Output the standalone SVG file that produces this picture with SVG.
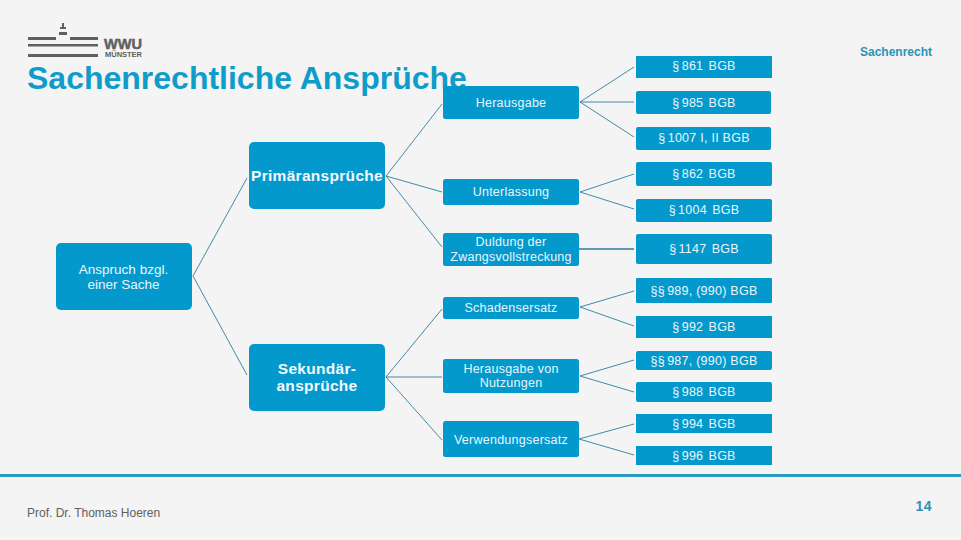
<svg xmlns="http://www.w3.org/2000/svg" width="961" height="540" viewBox="0 0 961 540">
<style>
.box{fill:#0499cd}
.t{font-family:"Liberation Sans",Arial,sans-serif;font-size:12.5px;fill:#eaf6fb;text-anchor:middle;letter-spacing:.25px}
.a{font-family:"Liberation Sans",Arial,sans-serif;font-size:13.5px;fill:#eaf6fb;text-anchor:middle}
.b{font-family:"Liberation Sans",Arial,sans-serif;font-size:15.500px;font-weight:bold;fill:#f2fafd;text-anchor:middle;letter-spacing:.3px}
.c line{stroke:#2b7f9f;stroke-width:.9;fill:none}
.logo{fill:#5f6062}
</style>
<rect width="961" height="540" fill="#f4f4f4"/>
<g id="logo">
<rect class="logo" x="28" y="37" width="28" height="3"/><rect class="logo" x="70" y="37" width="28" height="3"/>
<rect class="logo" x="28" y="44" width="70" height="2.500"/><rect class="logo" x="28" y="54" width="70" height="3"/>
<rect class="logo" x="59" y="32" width="8" height="3"/><rect class="logo" x="62" y="23" width="2" height="6"/><rect class="logo" x="60" y="27" width="6" height="2"/>
<text x="104" y="48.500" class="logo" textLength="38" lengthAdjust="spacingAndGlyphs" style="font-family:'Liberation Sans',sans-serif;font-size:15px;font-weight:bold;stroke:#5f6062;stroke-width:.5">WWU</text>
<text x="105" y="57" class="logo" textLength="37" lengthAdjust="spacingAndGlyphs" style="font-family:'Liberation Sans',sans-serif;font-size:7px;font-weight:bold">MÜNSTER</text>
</g>
<text id="title" x="27" y="89" style="font-family:'Liberation Sans',sans-serif;font-size:32px;font-weight:bold;fill:#0f9ccb">Sachenrechtliche Ansprüche</text>
<text id="section" x="932" y="56" text-anchor="end" style="font-family:'Liberation Sans',sans-serif;font-size:12px;font-weight:bold;fill:#2a93b5">Sachenrecht</text>
<g id="connectors" class="c">
<line x1="193" y1="276" x2="247" y2="178"/><line x1="193" y1="276" x2="247" y2="375"/>
<line x1="386" y1="176" x2="442" y2="104"/><line x1="386" y1="176" x2="442" y2="192"/><line x1="386" y1="176" x2="442" y2="247"/>
<line x1="386" y1="377" x2="442" y2="309"/><line x1="386" y1="377" x2="442" y2="377"/><line x1="386" y1="377" x2="442" y2="440"/>
<line x1="580" y1="102" x2="634" y2="67"/><line x1="580" y1="102" x2="634" y2="102"/><line x1="580" y1="102" x2="634" y2="137"/>
<line x1="580" y1="192" x2="634" y2="174"/><line x1="580" y1="192" x2="634" y2="209"/>
<line x1="579" y1="249" x2="634" y2="249" style="stroke-width:1.6"/>
<line x1="580" y1="307" x2="634" y2="291"/><line x1="580" y1="307" x2="634" y2="326"/>
<line x1="580" y1="376" x2="634" y2="360"/><line x1="580" y1="376" x2="634" y2="392"/>
<line x1="579" y1="439" x2="634" y2="424"/><line x1="579" y1="439" x2="634" y2="455"/>
</g>
<g id="anspruch"><rect class="box" x="56" y="243" width="136" height="67" rx="5"/><text class="a" x="123.500" y="274">Anspruch bzgl.</text><text class="a" x="123.500" y="289">einer Sache</text></g>
<g id="primaer"><rect class="box" x="249" y="142" width="136" height="67" rx="5"/><text class="b" x="317" y="181">Primäransprüche</text></g>
<g id="sekundaer"><rect class="box" x="249" y="344" width="136" height="67" rx="5"/><text class="b" x="317" y="374">Sekundär-</text><text class="b" x="317" y="391">ansprüche</text></g>
<g id="herausgabe"><rect class="box" x="443" y="86" width="136" height="33" rx="2.500"/><text class="t" x="511" y="107">Herausgabe</text></g>
<g id="unterlassung"><rect class="box" x="443" y="179" width="136" height="26" rx="2.500"/><text class="t" x="511" y="196">Unterlassung</text></g>
<g id="duldung"><rect class="box" x="443" y="233" width="136" height="33" rx="2.500"/><text class="t" x="511" y="246">Duldung der</text><text class="t" x="511" y="261">Zwangsvollstreckung</text></g>
<g id="schadensersatz"><rect class="box" x="443" y="297" width="136" height="22" rx="2.500"/><text class="t" x="511" y="312">Schadensersatz</text></g>
<g id="nutzungen"><rect class="box" x="443" y="359" width="136" height="34" rx="2.500"/><text class="t" x="511" y="373">Herausgabe von</text><text class="t" x="511" y="387">Nutzungen</text></g>
<g id="verwendung"><rect class="box" x="443" y="421" width="136" height="36" rx="2.500"/><text class="t" x="511" y="444">Verwendungsersatz</text></g>
<g id="p861"><rect class="box" x="636" y="56" width="136" height="22"/><text class="t" x="704" y="70">§ <tspan dx="-1.500">861</tspan> <tspan dx="1.500">BGB</tspan></text></g>
<g id="p985"><rect class="box" x="636" y="91" width="135" height="23" rx="2"/><text class="t" x="704" y="107">§ <tspan dx="-1.500">985</tspan> <tspan dx="1.500">BGB</tspan></text></g>
<g id="p1007"><rect class="box" x="636" y="127" width="135" height="23" rx="2"/><text class="t" x="704" y="142">§ <tspan dx="-1.500">1007</tspan> I, II BGB</text></g>
<g id="p862"><rect class="box" x="636" y="162" width="136" height="24" rx="2"/><text class="t" x="704" y="178">§ <tspan dx="-1.500">862</tspan> <tspan dx="1.500">BGB</tspan></text></g>
<g id="p1004"><rect class="box" x="636" y="199" width="136" height="23" rx="2"/><text class="t" x="704" y="214">§ <tspan dx="-1.500">1004</tspan> <tspan dx="1.500">BGB</tspan></text></g>
<g id="p1147"><rect class="box" x="636" y="234" width="136" height="30" rx="2"/><text class="t" x="704" y="253">§ <tspan dx="-1.500">1147</tspan> <tspan dx="1.500">BGB</tspan></text></g>
<g id="p989"><rect class="box" x="636" y="278" width="136" height="25" rx="1"/><text class="t" x="704" y="295">§§ <tspan dx="-1.500">989,</tspan> (990) BGB</text></g>
<g id="p992"><rect class="box" x="636" y="316" width="136" height="22"/><text class="t" x="704" y="331">§ <tspan dx="-1.500">992</tspan> <tspan dx="1.500">BGB</tspan></text></g>
<g id="p987"><rect class="box" x="636" y="351" width="136" height="19" rx="2"/><text class="t" x="704" y="365">§§ <tspan dx="-1.500">987,</tspan> (990) BGB</text></g>
<g id="p988"><rect class="box" x="636" y="382" width="136" height="20" rx="2"/><text class="t" x="704" y="396">§ <tspan dx="-1.500">988</tspan> <tspan dx="1.500">BGB</tspan></text></g>
<g id="p994"><rect class="box" x="636" y="414" width="136" height="19"/><text class="t" x="704" y="428">§ <tspan dx="-1.500">994</tspan> <tspan dx="1.500">BGB</tspan></text></g>
<g id="p996"><rect class="box" x="636" y="446" width="136" height="19"/><text class="t" x="704" y="460">§ <tspan dx="-1.500">996</tspan> <tspan dx="1.500">BGB</tspan></text></g>
<rect x="0" y="474" width="961" height="3" fill="#2a9cc0"/>
<text id="author" x="27" y="517" style="font-family:'Liberation Sans',sans-serif;font-size:12px;fill:#5f6062">Prof. Dr. Thomas Hoeren</text>
<text id="page" x="932" y="511" text-anchor="end" style="font-family:'Liberation Sans',sans-serif;font-size:14px;font-weight:bold;letter-spacing:.5px;fill:#2a93b5">14</text>
</svg>
